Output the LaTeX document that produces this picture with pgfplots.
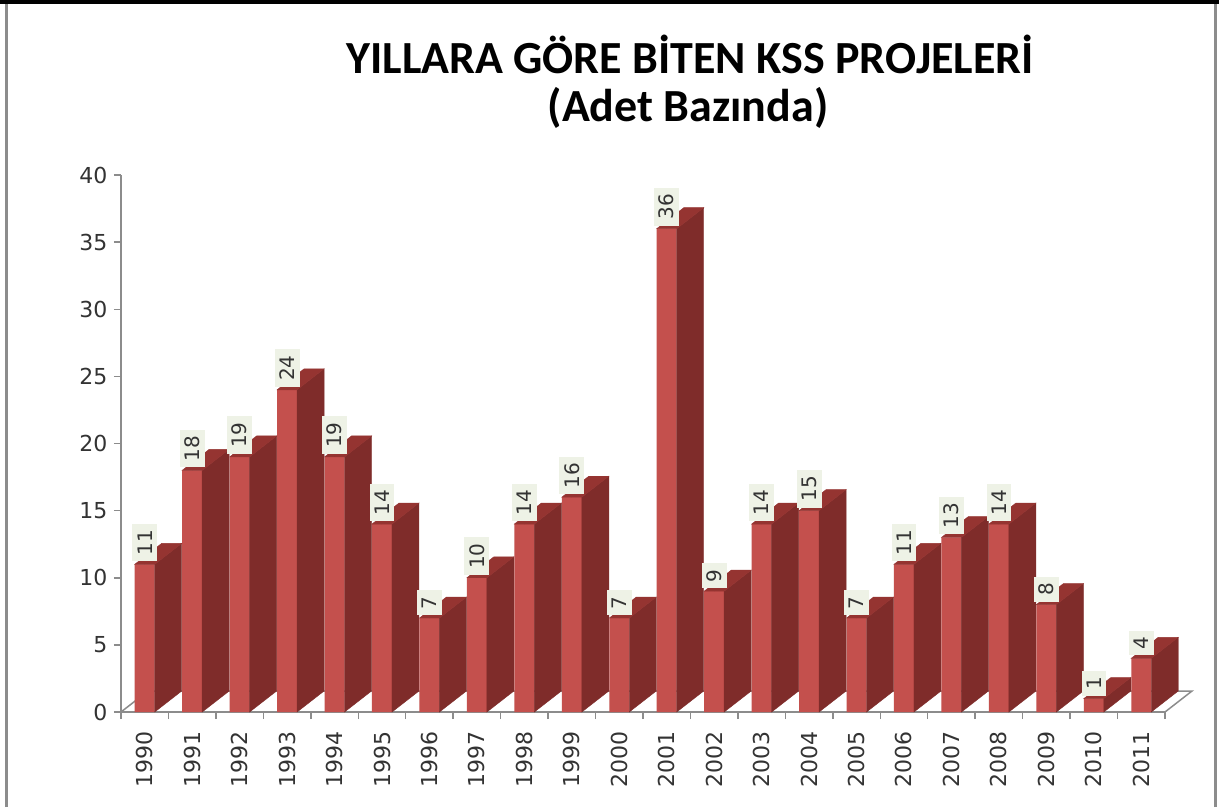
\documentclass[border=0pt]{standalone}
\usepackage{pgfplots}
\usepackage{pgfplotstable}
\pgfplotsset{compat=1.18}
\usepackage{fontspec}
\setmainfont{DejaVu Sans}
\newfontfamily\titlefont{Carlito}
\definecolor{frontred}{HTML}{C4504D}
\definecolor{sidered}{HTML}{7F2C2A}
\definecolor{topred}{HTML}{953431}
\definecolor{labelbg}{HTML}{EEF2E6}
\definecolor{axisgray}{HTML}{8C8C8C}
\pgfplotstableread{
x y
0 11
1 18
2 19
3 24
4 19
5 14
6 7
7 10
8 14
9 16
10 7
11 36
12 9
13 14
14 15
15 7
16 11
17 13
18 14
19 8
20 1
21 4
}\kssdata
\begin{document}
\begin{tikzpicture}[x=1pt,y=1pt]
\useasboundingbox (-121,-95) rectangle (1098,712);
\fill[white] (-121,-95) rectangle (1098,712);
\fill[black] (-121,708) rectangle (1098,712);
\draw[black!45, line width=2.5] (-114.5,-95) -- (-114.5,708);
\draw[black!45, line width=2.5] (1094.5,-95) -- (1094.5,708);
\draw[axisgray, line width=1.5, fill=white] (0,0) -- (1044,0) -- (1071,21) -- (27,21) -- cycle;
\node[font=\titlefont\bfseries\fontsize{46}{46}\selectfont, anchor=base] at (569,638) {YILLARA GÖRE BİTEN KSS PROJELERİ};
\node[font=\titlefont\bfseries\fontsize{46}{46}\selectfont, anchor=base] at (567,590) {(Adet Bazında)};
\begin{axis}[
  at={(0,0)}, anchor=south west,
  scale only axis, width=1044pt, height=537pt,
  xmin=-0.5, xmax=21.5, ymin=0, ymax=40,
  axis lines*=left,
  axis line style={axisgray, line width=1.5pt},
  every tick/.style={axisgray, line width=1.5pt},
  tick align=outside,
  major tick length=7pt,
  xtick={-0.5,0.5,...,21.5},
  xticklabels={},
  extra x ticks={0,1,...,21},
  extra x tick labels={1990,1991,1992,1993,1994,1995,1996,1997,1998,1999,2000,2001,2002,2003,2004,2005,2006,2007,2008,2009,2010,2011},
  extra x tick style={major tick length=0pt},
  xticklabel shift=16pt,
  xticklabel style={rotate=90, anchor=east, font=\fontsize{22}{22}\selectfont, text=black!80},
  ytick={0,5,...,40},
  yticklabel style={font=\fontsize{22}{22}\selectfont, text=black!80, xshift=-3pt},
  /pgf/number format/assume math mode=true,
  clip=false,
]
\addplot[scatter, only marks, mark=*, mark size=0pt,
  mark options={draw=none, fill=none},
  visualization depends on={rawy \as \val},
  scatter/@pre marker code/.code={%
    \pgfmathsetlengthmacro\h{\val*13.425pt}%
    \fill[sidered] (10pt,0pt) -- (37pt,21pt) -- (37pt,21pt-\h) -- (10pt,-\h) -- cycle;
    \fill[topred] (-10pt,0pt) -- (10pt,0pt) -- (37pt,21pt) -- (17pt,21pt) -- cycle;
    \scope
  },
  scatter/@post marker code/.code={\endscope},
] table[x=x, y=y] {\kssdata};
\addplot[ybar, bar width=20pt, bar shift=0pt, fill=frontred, draw=none,
  nodes near coords,
  every node near coord/.append style={rotate=90, anchor=west, fill=labelbg,
    text=black!80, font=\fontsize{20}{20}\selectfont, inner xsep=6pt, inner ysep=5pt, outer sep=3pt},
] table[x=x, y=y] {\kssdata};
\end{axis}
\end{tikzpicture}
\end{document}
